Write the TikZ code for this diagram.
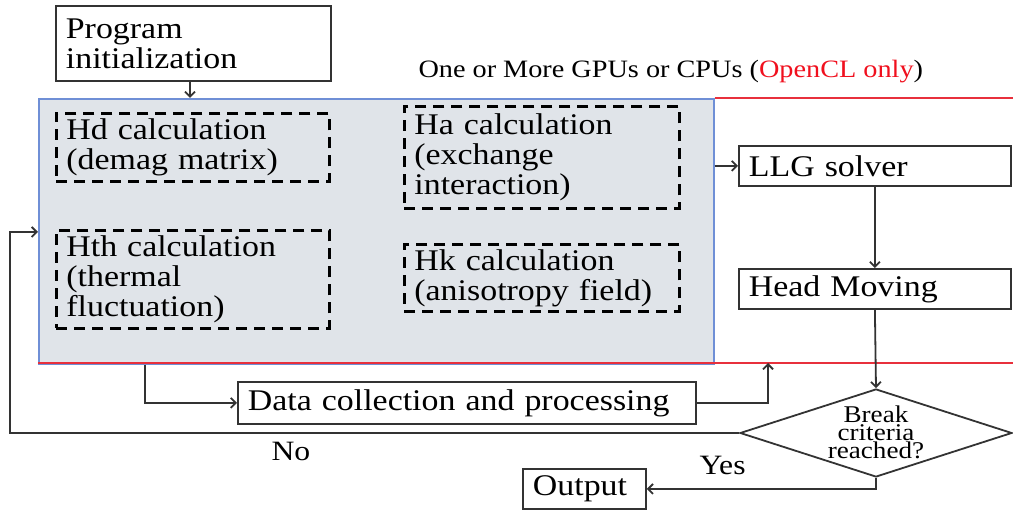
\documentclass[tikz,border=0pt]{standalone}
\usepackage{fontspec}
\setmainfont{Liberation Serif}[FakeStretch=1.13]
\usetikzlibrary{shapes.geometric,arrows.meta}
\definecolor{ln}{HTML}{333333}
\definecolor{gfill}{HTML}{E0E4E9}
\definecolor{bl}{HTML}{6F8FD6}
\definecolor{rd}{HTML}{E8303C}
\definecolor{txtred}{HTML}{F0101E}
\begin{document}
\begin{tikzpicture}[x=1pt,y=-1pt,
  mainfont/.style={font=\fontsize{30}{30}\selectfont},
  box/.style={draw=ln, line width=1.8pt, fill=white, inner xsep=10pt, inner ysep=0pt, align=left, mainfont, anchor=north west},
  dbox/.style={draw=black, line width=2.8pt, dash pattern=on 11pt off 7pt, inner xsep=10pt, inner ysep=0pt, align=left, mainfont, anchor=north west},
  arr/.style={draw=ln, line width=1.8pt, -{Straight Barb[length=5pt,width=10pt]}},
  redline/.style={draw=rd, line width=1.6pt}]
\useasboundingbox (0,0) rectangle (1013,510);
% GPU region
\node[draw=bl, fill=gfill, line width=1.6pt, anchor=north west, minimum width=675pt, minimum height=265pt, inner sep=0pt] (gpu) at (38,98) {};
\coordinate (rtop) at (1013,98);
\coordinate (rbl) at (38,363);
\coordinate (rbr) at (1013,363);
\draw[redline] (gpu.north east) -- (rtop);
\draw[redline] (rbl) -- (rbr);
\node[anchor=base west, font=\fontsize{25}{25}\selectfont] (lbl) at (415,78) {One or More GPUs or CPUs (\textcolor{txtred}{OpenCL only})};

\node[box, text width=255pt, minimum height=75pt] (init) at (55,5) {Program\\initialization};
\node[dbox, text width=253pt, minimum height=68pt] (hd) at (55,112) {Hd calculation\\(demag matrix)};
\node[dbox, text width=255pt, minimum height=102pt] (ha) at (403,105) {Ha calculation\\(exchange\\interaction)};
\node[dbox, text width=253pt, minimum height=98pt] (hth) at (55,229) {Hth calculation\\(thermal\\fluctuation)};
\node[dbox, text width=255pt, minimum height=67pt] (hk) at (403,243) {Hk calculation\\(anisotropy field)};

\node[box, text width=252pt, minimum height=40pt] (llg) at (738,145) {LLG solver};
\node[box, text width=252pt, minimum height=40pt] (head) at (738,268) {Head Moving};
\node[box, text width=438pt, minimum height=42pt] (data) at (237,381) {Data collection and processing};
\node[box, text width=103pt, minimum height=40pt] (out) at (522,468) {Output};
\node[draw=ln, line width=1.8pt, diamond, minimum width=272pt, minimum height=88pt, inner sep=0pt] (dec) at (876,433) {};
\node[align=center, inner sep=0pt, font=\fontsize{24}{18}\selectfont] (dectxt) at (876,432) {Break\\criteria\\reached?};

\node[anchor=base west, font=\fontsize{28}{28}\selectfont] (no) at (268,461) {No};
\node[anchor=base west, font=\fontsize{28}{28}\selectfont] (yes) at (696,475) {Yes};

% connectors
\draw[arr] (init.south -| 190,0) -- (gpu.north -| 190,0);
\draw[arr] (gpu.east |- llg.west) -- (llg.west);
\draw[arr] (llg.south) -- (head.north);
\draw[arr] (head.south) -- (dec.north);
\draw[arr] (gpu.south -| 145,0) |- (data.west);
\coordinate (dtop) at (768,363);
\draw[arr] (data.east) -| (dtop);
\coordinate (loopin) at (38,232);
\draw[arr] (dec.west) -- (10,433) |- (loopin);
\draw[arr] (dec.south) |- (out.east);
\end{tikzpicture}
\end{document}
